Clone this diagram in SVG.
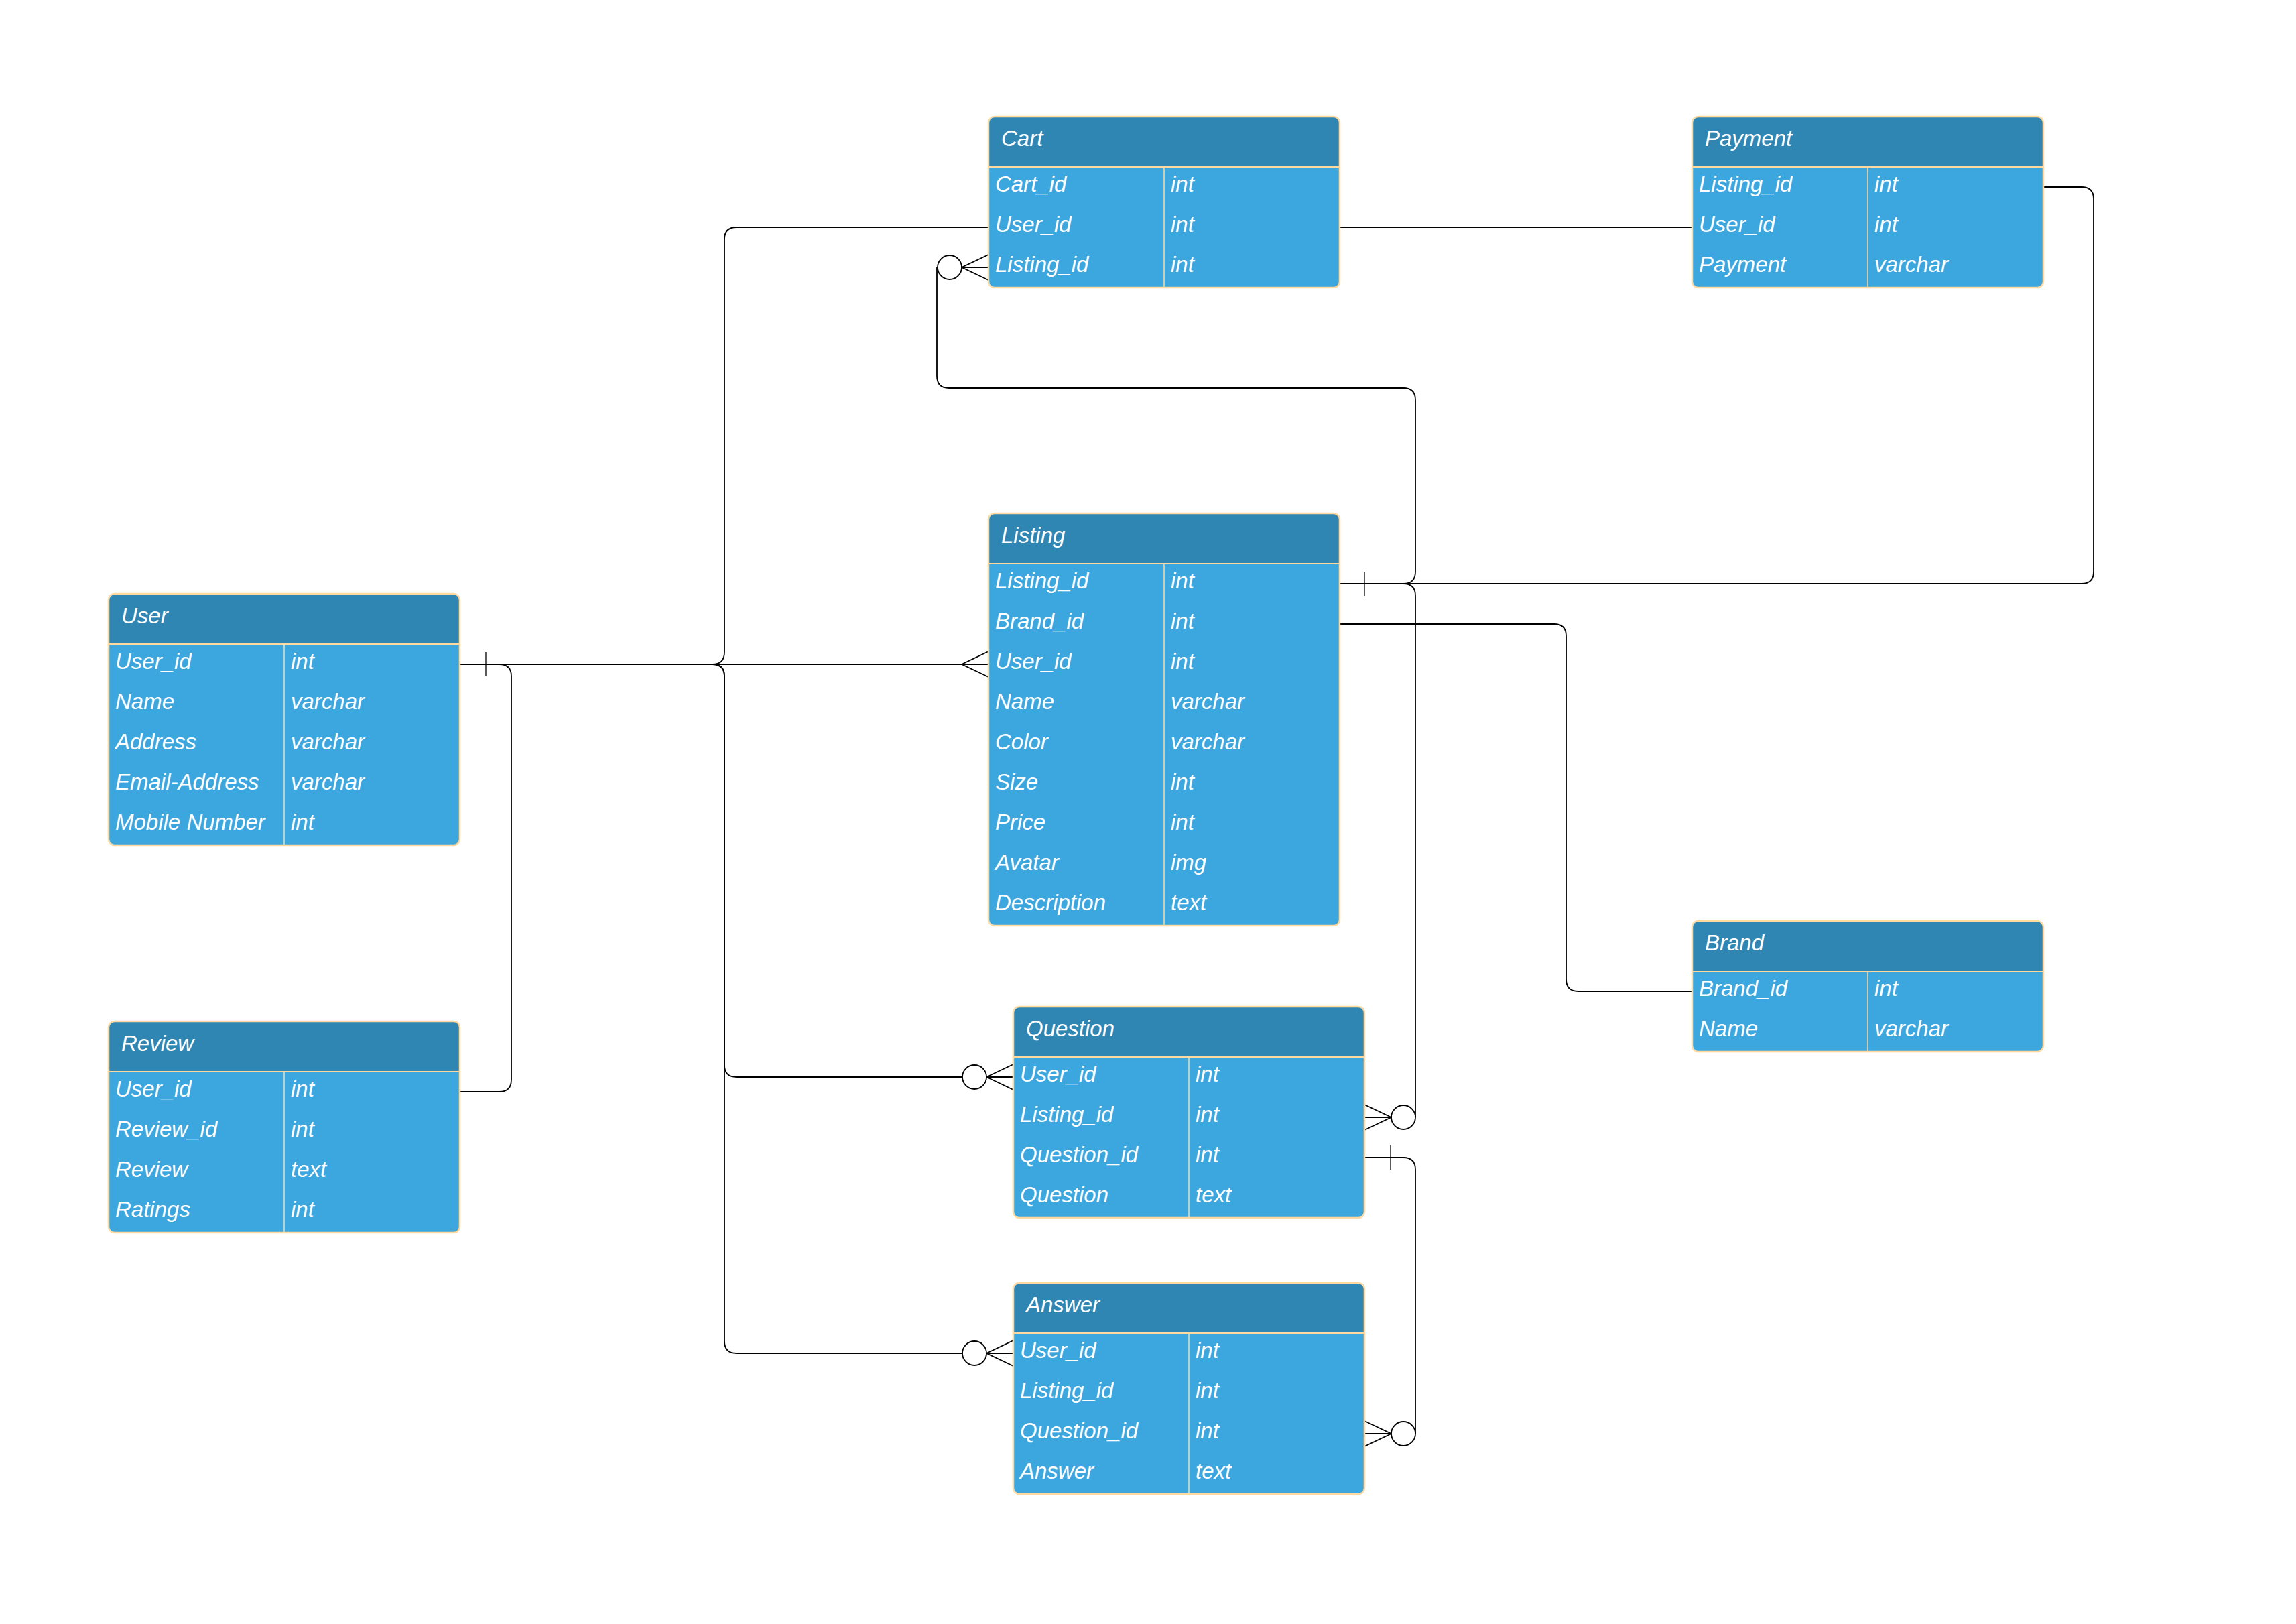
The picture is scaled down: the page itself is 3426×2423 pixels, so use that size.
<svg xmlns="http://www.w3.org/2000/svg" width="3426" height="2423" viewBox="0 0 3426 2423">
<style>
.body{fill:#3CA6DE}
.head{fill:#2F86B3}
.frame{fill:none;stroke:#FFD9A0;stroke-width:2.5}
.sep{stroke:#FFD9A0;stroke-width:2}
.div{stroke:#FFD9A0;stroke-width:1.5}
text{font-family:"Liberation Sans",Arial,sans-serif;font-style:italic;font-size:33px;fill:#FFFFFF}
.edge{fill:none;stroke:#000000;stroke-width:1.8}
.tick{fill:none;stroke:#000000;stroke-width:1.3}
.crow{fill:none;stroke:#000000;stroke-width:1.8}
.zero{fill:#FFFFFF;stroke:#000000;stroke-width:1.8}
</style>
<defs>
<path id="crowL" class="crow" d="M0,-19 L-40,0 L0,19 M0,0 H-40"/>
<path id="crowR" class="crow" d="M0,-19 L40,0 L0,19 M0,0 H40"/>
</defs>
<rect x="0" y="0" width="3426" height="2423" fill="#FFFFFF"/>

<g id="connectors">
<path class="edge" d="M687,991 H1475"/>
<path class="edge" d="M687,991 H1063 Q1081,991 1081,973 V357 Q1081,339 1099,339 H1475"/>
<path class="edge" d="M687,991 H1063 Q1081,991 1081,1009 V1589 Q1081,1607 1099,1607 H1436"/>
<path class="edge" d="M687,991 H1063 Q1081,991 1081,1009 V2001 Q1081,2019 1099,2019 H1436"/>
<path class="edge" d="M687,991 H745 Q763,991 763,1009 V1611 Q763,1629 745,1629 H687"/>
<path class="edge" d="M1999,871 H2094 Q2112,871 2112,853 V597 Q2112,579 2094,579 H1416 Q1398,579 1398,561 V399"/>
<path class="edge" d="M1999,871 H2094 Q2112,871 2112,889 V1667"/>
<path class="edge" d="M1999,871 H3106 Q3124,871 3124,853 V297 Q3124,279 3106,279 H3049"/>
<path class="edge" d="M1999,931 H2319 Q2337,931 2337,949 V1461 Q2337,1479 2355,1479 H2525"/>
<path class="edge" d="M1999,339 H2525"/>
<path class="edge" d="M2036,1727 H2094 Q2112,1727 2112,1745 V2139"/>
<path class="tick" d="M725,973 V1009"/>
<path class="tick" d="M2036,853 V889"/>
<path class="tick" d="M2075,1709 V1745"/>
<use href="#crowL" x="1475" y="991"/>
<use href="#crowL" x="1475" y="399"/>
<use href="#crowL" x="1512" y="1607"/>
<use href="#crowL" x="1512" y="2019"/>
<use href="#crowR" x="2036" y="1667"/>
<use href="#crowR" x="2036" y="2139"/>
<circle class="zero" cx="1417" cy="399" r="18"/>
<circle class="zero" cx="1454" cy="1607" r="18"/>
<circle class="zero" cx="1454" cy="2019" r="18"/>
<circle class="zero" cx="2094" cy="1667" r="18"/>
<circle class="zero" cx="2094" cy="2139" r="18"/>
</g>

<g id="cart">
<rect class="body" x="1475" y="174" width="524" height="255" rx="9"/>
<path class="head" d="M1475,249 V183 Q1475,174 1484,174 H1990 Q1999,174 1999,183 V249 Z"/>
<rect class="frame" x="1475" y="174" width="524" height="255" rx="9"/>
<line class="sep" x1="1475" y1="249" x2="1999" y2="249"/>
<line class="div" x1="1737" y1="249" x2="1737" y2="429"/>
<text x="1494" y="218">Cart</text>
<text x="1485" y="286">Cart_id</text><text x="1747" y="286">int</text>
<text x="1485" y="346">User_id</text><text x="1747" y="346">int</text>
<text x="1485" y="406">Listing_id</text><text x="1747" y="406">int</text>
</g>

<g id="payment">
<rect class="body" x="2525" y="174" width="524" height="255" rx="9"/>
<path class="head" d="M2525,249 V183 Q2525,174 2534,174 H3040 Q3049,174 3049,183 V249 Z"/>
<rect class="frame" x="2525" y="174" width="524" height="255" rx="9"/>
<line class="sep" x1="2525" y1="249" x2="3049" y2="249"/>
<line class="div" x1="2787" y1="249" x2="2787" y2="429"/>
<text x="2544" y="218">Payment</text>
<text x="2535" y="286">Listing_id</text><text x="2797" y="286">int</text>
<text x="2535" y="346">User_id</text><text x="2797" y="346">int</text>
<text x="2535" y="406">Payment</text><text x="2797" y="406">varchar</text>
</g>

<g id="listing">
<rect class="body" x="1475" y="766" width="524" height="615" rx="9"/>
<path class="head" d="M1475,841 V775 Q1475,766 1484,766 H1990 Q1999,766 1999,775 V841 Z"/>
<rect class="frame" x="1475" y="766" width="524" height="615" rx="9"/>
<line class="sep" x1="1475" y1="841" x2="1999" y2="841"/>
<line class="div" x1="1737" y1="841" x2="1737" y2="1381"/>
<text x="1494" y="810">Listing</text>
<text x="1485" y="878">Listing_id</text><text x="1747" y="878">int</text>
<text x="1485" y="938">Brand_id</text><text x="1747" y="938">int</text>
<text x="1485" y="998">User_id</text><text x="1747" y="998">int</text>
<text x="1485" y="1058">Name</text><text x="1747" y="1058">varchar</text>
<text x="1485" y="1118">Color</text><text x="1747" y="1118">varchar</text>
<text x="1485" y="1178">Size</text><text x="1747" y="1178">int</text>
<text x="1485" y="1238">Price</text><text x="1747" y="1238">int</text>
<text x="1485" y="1298">Avatar</text><text x="1747" y="1298">img</text>
<text x="1485" y="1358">Description</text><text x="1747" y="1358">text</text>
</g>

<g id="user">
<rect class="body" x="162" y="886" width="524" height="375" rx="9"/>
<path class="head" d="M162,961 V895 Q162,886 171,886 H677 Q686,886 686,895 V961 Z"/>
<rect class="frame" x="162" y="886" width="524" height="375" rx="9"/>
<line class="sep" x1="162" y1="961" x2="686" y2="961"/>
<line class="div" x1="424" y1="961" x2="424" y2="1261"/>
<text x="181" y="930">User</text>
<text x="172" y="998">User_id</text><text x="434" y="998">int</text>
<text x="172" y="1058">Name</text><text x="434" y="1058">varchar</text>
<text x="172" y="1118">Address</text><text x="434" y="1118">varchar</text>
<text x="172" y="1178">Email-Address</text><text x="434" y="1178">varchar</text>
<text x="172" y="1238">Mobile Number</text><text x="434" y="1238">int</text>
</g>

<g id="review">
<rect class="body" x="162" y="1524" width="524" height="315" rx="9"/>
<path class="head" d="M162,1599 V1533 Q162,1524 171,1524 H677 Q686,1524 686,1533 V1599 Z"/>
<rect class="frame" x="162" y="1524" width="524" height="315" rx="9"/>
<line class="sep" x1="162" y1="1599" x2="686" y2="1599"/>
<line class="div" x1="424" y1="1599" x2="424" y2="1839"/>
<text x="181" y="1568">Review</text>
<text x="172" y="1636">User_id</text><text x="434" y="1636">int</text>
<text x="172" y="1696">Review_id</text><text x="434" y="1696">int</text>
<text x="172" y="1756">Review</text><text x="434" y="1756">text</text>
<text x="172" y="1816">Ratings</text><text x="434" y="1816">int</text>
</g>

<g id="brand">
<rect class="body" x="2525" y="1374" width="524" height="195" rx="9"/>
<path class="head" d="M2525,1449 V1383 Q2525,1374 2534,1374 H3040 Q3049,1374 3049,1383 V1449 Z"/>
<rect class="frame" x="2525" y="1374" width="524" height="195" rx="9"/>
<line class="sep" x1="2525" y1="1449" x2="3049" y2="1449"/>
<line class="div" x1="2787" y1="1449" x2="2787" y2="1569"/>
<text x="2544" y="1418">Brand</text>
<text x="2535" y="1486">Brand_id</text><text x="2797" y="1486">int</text>
<text x="2535" y="1546">Name</text><text x="2797" y="1546">varchar</text>
</g>

<g id="question">
<rect class="body" x="1512" y="1502" width="524" height="315" rx="9"/>
<path class="head" d="M1512,1577 V1511 Q1512,1502 1521,1502 H2027 Q2036,1502 2036,1511 V1577 Z"/>
<rect class="frame" x="1512" y="1502" width="524" height="315" rx="9"/>
<line class="sep" x1="1512" y1="1577" x2="2036" y2="1577"/>
<line class="div" x1="1774" y1="1577" x2="1774" y2="1817"/>
<text x="1531" y="1546">Question</text>
<text x="1522" y="1614">User_id</text><text x="1784" y="1614">int</text>
<text x="1522" y="1674">Listing_id</text><text x="1784" y="1674">int</text>
<text x="1522" y="1734">Question_id</text><text x="1784" y="1734">int</text>
<text x="1522" y="1794">Question</text><text x="1784" y="1794">text</text>
</g>

<g id="answer">
<rect class="body" x="1512" y="1914" width="524" height="315" rx="9"/>
<path class="head" d="M1512,1989 V1923 Q1512,1914 1521,1914 H2027 Q2036,1914 2036,1923 V1989 Z"/>
<rect class="frame" x="1512" y="1914" width="524" height="315" rx="9"/>
<line class="sep" x1="1512" y1="1989" x2="2036" y2="1989"/>
<line class="div" x1="1774" y1="1989" x2="1774" y2="2229"/>
<text x="1531" y="1958">Answer</text>
<text x="1522" y="2026">User_id</text><text x="1784" y="2026">int</text>
<text x="1522" y="2086">Listing_id</text><text x="1784" y="2086">int</text>
<text x="1522" y="2146">Question_id</text><text x="1784" y="2146">int</text>
<text x="1522" y="2206">Answer</text><text x="1784" y="2206">text</text>
</g>
</svg>
